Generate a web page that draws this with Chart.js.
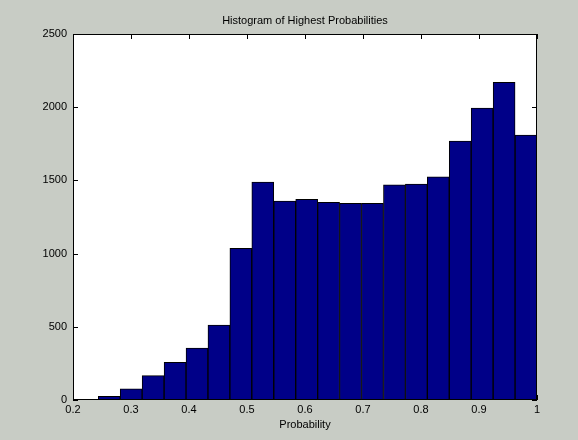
<!DOCTYPE html>
<html>
<head>
<meta charset="utf-8">
<script src="https://cdn.jsdelivr.net/npm/chart.js@4/dist/chart.umd.min.js"></script>
<style>
  html, body { margin: 0; padding: 0; background: #c8ccc5; }
  #wrap { width: 578px; height: 440px; }
</style>
</head>
<body>
<div id="wrap"><canvas id="c" width="578" height="440"></canvas></div>
<script>
// Histogram data
const binCenters = [0.2625, 0.3003, 0.3381, 0.3760, 0.4138, 0.4516, 0.4894, 0.5272, 0.5651, 0.6029,
                    0.6407, 0.6785, 0.7163, 0.7542, 0.7920, 0.8298, 0.8676, 0.9054, 0.9433, 0.9811];
const counts = [25, 77, 166, 257, 355, 512, 1036, 1489, 1359, 1371,
                1350, 1343, 1343, 1469, 1475, 1525, 1769, 1994, 2170, 1810];
const xTicks = [0.2, 0.3, 0.4, 0.5, 0.6, 0.7, 0.8, 0.9, 1.0];
const yTicks = [0, 500, 1000, 1500, 2000, 2500];
const titleText = 'Histogram of Highest Probabilities';
const xLabel = 'Probability';

const FONT = 'Liberation Sans, Arial, Helvetica, sans-serif';

const framePlugin = {
  id: 'frame',
  beforeDatasetsDraw(chart) {
    const {ctx, chartArea: a, scales: {x, y}} = chart;
    ctx.save();
    ctx.strokeStyle = '#000';
    ctx.lineWidth = 1;
    ctx.beginPath();
    const L = 5;
    xTicks.forEach(v => {
      const px = Math.round(x.getPixelForValue(v)) + 0.5;
      ctx.moveTo(px, a.top); ctx.lineTo(px, a.top + L);
      ctx.moveTo(px, a.bottom); ctx.lineTo(px, a.bottom - L);
    });
    yTicks.forEach(v => {
      const py = Math.round(y.getPixelForValue(v)) + 0.5;
      ctx.moveTo(a.left, py); ctx.lineTo(a.left + L, py);
      ctx.moveTo(a.right, py); ctx.lineTo(a.right - L, py);
    });
    ctx.stroke();
    ctx.restore();
  },
  afterDatasetsDraw(chart) {
    const {ctx, chartArea: a} = chart;
    ctx.save();
    ctx.strokeStyle = '#000';
    ctx.lineWidth = 1;
    ctx.strokeRect(Math.round(a.left) + 0.5, Math.round(a.top) + 0.5,
                   Math.round(a.right - a.left) - 1, Math.round(a.bottom - a.top) - 1);
    ctx.restore();
  }
};

const bgPlugin = {
  id: 'bg',
  beforeDraw(chart) {
    const {ctx, chartArea: a} = chart;
    ctx.save();
    ctx.fillStyle = '#ffffff';
    ctx.fillRect(a.left, a.top, a.right - a.left, a.bottom - a.top);
    ctx.restore();
  }
};

new Chart(document.getElementById('c'), {
  type: 'bar',
  data: {
    datasets: [{
      data: binCenters.map((c, i) => ({x: c, y: counts[i]})),
      backgroundColor: '#000088',
      borderColor: '#000000',
      borderWidth: 1,
      barPercentage: 1,
      categoryPercentage: 1,
      borderSkipped: false
    }]
  },
  options: {
    responsive: false,
    animation: false,
    events: [],
    layout: { padding: { left: 0, right: 41, top: 0, bottom: 0 } },
    plugins: {
      legend: { display: false },
      tooltip: { enabled: false },
      title: {
        display: true,
        text: titleText,
        fullSize: false,
        color: '#000',
        font: { family: FONT, size: 11, weight: 'normal', lineHeight: 13 / 11 },
        padding: { top: 14, bottom: 7 }
      }
    },
    scales: {
      x: {
        type: 'linear',
        min: 0.2, max: 1,
        offset: false,
        grid: { display: false, drawTicks: false, offset: false },
        border: { display: false },
        afterBuildTicks(s) { s.ticks = xTicks.map(v => ({value: v})); },
        afterFit(s) { s.height = 40; },
        ticks: {
          color: '#000',
          padding: 3,
          maxRotation: 0,
          autoSkip: false,
          font: { family: FONT, size: 11 },
          callback: v => (v === 1 ? '1' : v.toFixed(1))
        },
        title: {
          display: true,
          text: xLabel,
          color: '#000',
          font: { family: FONT, size: 11 },
          padding: { top: 0, bottom: 8 }
        }
      },
      y: {
        min: 0, max: 2500,
        grid: { display: false, drawTicks: false },
        border: { display: false },
        afterBuildTicks(s) { s.ticks = yTicks.map(v => ({value: v})); },
        afterFit(s) { s.width = 73; },
        ticks: {
          color: '#000',
          padding: 6,
          autoSkip: false,
          font: { family: FONT, size: 11 },
          callback: v => String(v)
        }
      }
    }
  },
  plugins: [bgPlugin, framePlugin]
});
</script>
</body>
</html>
